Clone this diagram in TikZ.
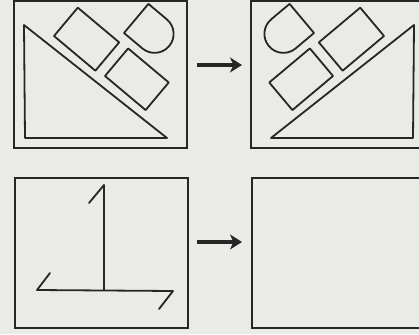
\documentclass[tikz,border=0pt]{standalone}
\usetikzlibrary{arrows.meta}
\definecolor{paper}{RGB}{234,234,231}
\definecolor{ink}{RGB}{38,38,38}
\tikzset{
  frame/.style={draw=ink,line width=2pt},
  figline/.style={draw=ink,line width=1.8pt,line join=round,line cap=round},
  bigarrow/.style={draw=ink,line width=3.4pt,-{Stealth[length=12pt,width=15pt,inset=3.5pt]}}
}
\newcommand\mytoppanel{%
  \draw[frame] (14,1) rectangle (187,148);
  \draw[figline] (24,25) -- (25,138) -- (167,138) -- cycle;
  \begin{scope}[shift={(54,36)},rotate=-40]
    \draw[figline] (0,0) rectangle (54,-37);
  \end{scope}
  \begin{scope}[shift={(105,76)},rotate=-40]
    \draw[figline] (0,0) rectangle (53,-36);
  \end{scope}
  \begin{scope}[shift={(124,33)},rotate=-40]
    \draw[figline] (24,0) -- (0,0) -- (0,-38) -- (24,-38)
      arc[start angle=-90,end angle=90,radius=19];
  \end{scope}
}
\begin{document}
\begin{tikzpicture}[x=1pt,y=-1pt]
  \useasboundingbox (0,0) rectangle (419,334);
  \fill[paper] (0,0) rectangle (419,334);
  \clip (0,0) rectangle (419,334);
  % top left panel
  \mytoppanel
  % top right panel (mirror)
  \begin{scope}[shift={(438,0)},xscale=-1]
    \mytoppanel
  \end{scope}
  % bottom left panel
  \draw[frame] (15,178) rectangle (188,328);
  \draw[figline] (89,203) -- (104,185) -- (104,290);
  \draw[figline] (50,273) -- (37,290) -- (173,291) -- (159,309);
  % bottom right panel
  \draw[frame] (252,178) rectangle (432,328);
  % arrows
  \coordinate (a1s) at (197,65);
  \coordinate (a1e) at (242,65);
  \coordinate (a2s) at (197,242);
  \coordinate (a2e) at (242,242);
  \draw[bigarrow] (a1s) -- (a1e);
  \draw[bigarrow] (a2s) -- (a2e);
\end{tikzpicture}
\end{document}
